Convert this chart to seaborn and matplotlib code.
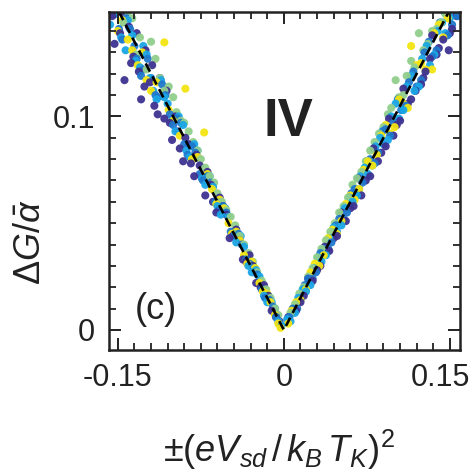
import matplotlib
matplotlib.use("Agg")
import matplotlib.pyplot as plt
import matplotlib.transforms as mtransforms
import seaborn as sns
import pandas as pd
from matplotlib.ticker import MultipleLocator, FixedLocator, FixedFormatter

# ---------------- data ----------------
purple_x = [-0.155, -0.148, -0.144, -0.140, -0.136, -0.131, -0.129, -0.125, -0.121, -0.117,
            -0.112, -0.108, -0.103, -0.098, -0.094, -0.089, -0.084, -0.079, -0.074, -0.069,
            -0.064, -0.058, -0.052, -0.046, -0.040, -0.034, -0.028, -0.021, -0.014, -0.007,
            0.008, 0.015, 0.022, 0.030, 0.037, 0.045, 0.052, 0.060, 0.067, 0.074,
            0.081, 0.088, 0.095, 0.102, 0.108, 0.115, 0.124, 0.128, 0.134, 0.140, 0.149, 0.152,
            -0.153, -0.146, -0.138, -0.133, -0.126, -0.119, -0.114, -0.106, -0.101, -0.096,
            -0.091, -0.086, -0.081, -0.076, -0.071, -0.066, -0.061, -0.055, -0.049, -0.043,
            -0.037, -0.031, -0.025, -0.018, -0.011, -0.004,
            0.004, 0.011, 0.018, 0.026, 0.033, 0.041, 0.048, 0.056, 0.063, 0.070,
            0.078, 0.085, 0.092, 0.099, 0.105, 0.112, 0.119, 0.126, 0.132, 0.138, 0.144, 0.150, 0.156]
purple_y = [0.147, 0.139, 0.117, 0.142, 0.128, 0.121, 0.108, 0.131, 0.116, 0.105,
            0.118, 0.099, 0.097, 0.100, 0.085, 0.090, 0.078, 0.082, 0.071, 0.074,
            0.060, 0.062, 0.054, 0.044, 0.042, 0.032, 0.030, 0.020, 0.016, 0.006,
            0.009, 0.013, 0.024, 0.028, 0.039, 0.043, 0.055, 0.057, 0.071, 0.070,
            0.085, 0.083, 0.099, 0.096, 0.113, 0.108, 0.115, 0.121, 0.138, 0.132, 0.131, 0.141,
            0.134, 0.149, 0.125, 0.139, 0.114, 0.124, 0.101, 0.112, 0.089, 0.093,
            0.079, 0.087, 0.072, 0.077, 0.063, 0.068, 0.055, 0.058, 0.043, 0.047,
            0.033, 0.035, 0.022, 0.021, 0.009, 0.004,
            0.006, 0.009, 0.016, 0.023, 0.030, 0.037, 0.044, 0.051, 0.058, 0.063,
            0.072, 0.079, 0.086, 0.091, 0.098, 0.106, 0.112, 0.118, 0.127, 0.129, 0.136, 0.139, 0.147]

blue_x = [-0.152, -0.146, -0.139, -0.133, -0.127, -0.120, -0.114, -0.107, -0.100, -0.093,
          -0.087, -0.080, -0.073, -0.066, -0.059, -0.052, -0.045, -0.038, -0.031, -0.024,
          -0.017, -0.010, -0.004,
          0.005, 0.012, 0.019, 0.026, 0.033, 0.040, 0.047, 0.054, 0.061, 0.068,
          0.075, 0.082, 0.089, 0.096, 0.103, 0.110, 0.117, 0.124, 0.131, 0.138,
          0.145, 0.152, 0.157,
          -0.149, -0.142, -0.135, -0.129, -0.123, -0.116, -0.110, -0.103, -0.096, -0.090,
          -0.083, -0.076, -0.069, -0.062, -0.055, -0.048, -0.041, -0.034, -0.027, -0.020,
          -0.013, -0.007,
          0.008, 0.015, 0.022, 0.029, 0.036, 0.043, 0.050, 0.057, 0.064, 0.071,
          0.078, 0.085, 0.092, 0.099, 0.106, 0.113, 0.120, 0.127, 0.134, 0.141, 0.148, 0.155]
blue_y = [0.148, 0.136, 0.141, 0.127, 0.122, 0.118, 0.109, 0.110, 0.096, 0.097,
          0.082, 0.083, 0.070, 0.069, 0.056, 0.055, 0.044, 0.040, 0.031, 0.026,
          0.015, 0.011, 0.003,
          0.006, 0.010, 0.021, 0.024, 0.036, 0.038, 0.049, 0.052, 0.064, 0.066,
          0.079, 0.078, 0.093, 0.091, 0.108, 0.105, 0.121, 0.117, 0.135, 0.131,
          0.149, 0.143, 0.147,
          0.141, 0.146, 0.133, 0.119, 0.127, 0.110, 0.115, 0.101, 0.099, 0.087,
          0.086, 0.073, 0.072, 0.060, 0.058, 0.046, 0.045, 0.033, 0.029, 0.019,
          0.014, 0.006,
          0.010, 0.014, 0.024, 0.027, 0.038, 0.041, 0.052, 0.055, 0.066, 0.069,
          0.080, 0.083, 0.094, 0.097, 0.103, 0.116, 0.114, 0.130, 0.128, 0.144, 0.138, 0.149]

cyan_x = [-0.157, -0.150, -0.143, -0.137, -0.130, -0.124, -0.118, -0.111, -0.105, -0.098,
          -0.091, -0.085, -0.078, -0.071, -0.064, -0.057, -0.050, -0.043, -0.036, -0.029,
          -0.022, -0.015, -0.008, -0.002,
          0.003, 0.010, 0.017, 0.024, 0.031, 0.038, 0.045, 0.052, 0.059, 0.066,
          0.073, 0.080, 0.087, 0.094, 0.101, 0.108, 0.115, 0.122, 0.129, 0.136,
          0.143, 0.150, 0.156,
          -0.154, -0.147, -0.141, -0.134, -0.127, -0.121, -0.115, -0.108, -0.101, -0.095,
          -0.088, -0.081, -0.074, -0.067, -0.060, -0.053, -0.046, -0.039, -0.032, -0.025,
          -0.018, -0.011, -0.005,
          0.006, 0.013, 0.020, 0.027, 0.034, 0.041, 0.048, 0.055, 0.062, 0.069,
          0.076, 0.083, 0.090, 0.097, 0.104, 0.111, 0.118, 0.125, 0.132, 0.139, 0.146, 0.153]
cyan_y = [0.143, 0.149, 0.131, 0.138, 0.123, 0.129, 0.112, 0.117, 0.106, 0.093,
          0.096, 0.081, 0.084, 0.068, 0.067, 0.054, 0.053, 0.041, 0.039, 0.027,
          0.025, 0.013, 0.010, 0.002,
          0.005, 0.008, 0.019, 0.021, 0.034, 0.035, 0.048, 0.049, 0.062, 0.063,
          0.076, 0.077, 0.090, 0.089, 0.106, 0.103, 0.119, 0.114, 0.133, 0.129,
          0.144, 0.146, 0.150,
          0.148, 0.137, 0.145, 0.126, 0.133, 0.118, 0.108, 0.109, 0.098, 0.100,
          0.084, 0.087, 0.071, 0.072, 0.058, 0.057, 0.045, 0.044, 0.030, 0.028,
          0.016, 0.013, 0.004,
          0.004, 0.015, 0.018, 0.029, 0.032, 0.043, 0.046, 0.057, 0.060, 0.072,
          0.073, 0.086, 0.087, 0.100, 0.099, 0.114, 0.112, 0.127, 0.124, 0.140, 0.139, 0.148]

green_x = [-0.152, -0.137, -0.130, -0.120, -0.124, -0.112, -0.104, -0.097, -0.090, -0.082,
           -0.075, -0.067, -0.060, -0.052, -0.044, -0.036, -0.028, -0.020, -0.012, -0.005,
           0.006, 0.014, 0.022, 0.030, 0.038, 0.046, 0.054, 0.062, 0.070, 0.078,
           0.086, 0.094, 0.101, 0.108, 0.115, 0.122, 0.130, 0.138, 0.146, 0.154,
           -0.145, -0.141, -0.133, -0.116, -0.108, -0.100, -0.093, -0.086, -0.078, -0.071,
           -0.063, -0.056, -0.048, -0.040, -0.032, -0.024, -0.016, -0.008,
           0.010, 0.018, 0.026, 0.034, 0.042, 0.050, 0.058, 0.066, 0.074, 0.082,
           0.090, 0.097, 0.104, 0.111, 0.118, 0.126, 0.134, 0.142, 0.150]
green_y = [0.149, 0.146, 0.137, 0.135, 0.122, 0.118, 0.114, 0.102, 0.097, 0.088,
           0.080, 0.072, 0.064, 0.056, 0.049, 0.040, 0.032, 0.023, 0.015, 0.007,
           0.008, 0.017, 0.025, 0.034, 0.042, 0.050, 0.058, 0.068, 0.074, 0.084,
           0.092, 0.101, 0.117, 0.110, 0.126, 0.139, 0.134, 0.141, 0.148, 0.150,
           0.144, 0.149, 0.129, 0.127, 0.112, 0.109, 0.098, 0.093, 0.084, 0.076,
           0.069, 0.060, 0.053, 0.044, 0.036, 0.027, 0.019, 0.010,
           0.012, 0.020, 0.029, 0.038, 0.046, 0.055, 0.062, 0.071, 0.079, 0.088,
           0.095, 0.104, 0.109, 0.119, 0.123, 0.131, 0.140, 0.144, 0.149]

yellow_x = [-0.150, -0.141, -0.132, -0.108, -0.120, -0.089, -0.100, -0.072, -0.083, -0.065,
            -0.058, -0.050, -0.043, -0.036, -0.029, -0.022, -0.015, -0.008, -0.003,
            0.004, 0.011, 0.020, 0.028, 0.036, 0.044, 0.052, 0.060, 0.068, 0.076,
            0.084, 0.092, 0.100, 0.108, 0.115, 0.124, 0.134, 0.140, 0.148,
            -0.146, -0.137, -0.128, -0.124, -0.115, -0.104, -0.094, -0.078, -0.069, -0.061,
            -0.054, -0.047, -0.040, -0.033, -0.026, -0.019, -0.012, -0.005,
            0.007, 0.015, 0.024, 0.032, 0.040, 0.048, 0.056, 0.064, 0.072, 0.080,
            0.088, 0.096, 0.104, 0.112, 0.120, 0.128, 0.136, 0.144, 0.152]
yellow_y = [0.140, 0.136, 0.124, 0.1347, 0.112, 0.113, 0.098, 0.0925, 0.080, 0.066,
            0.061, 0.050, 0.046, 0.035, 0.032, 0.022, 0.017, 0.007, 0.001,
            0.003, 0.013, 0.019, 0.031, 0.035, 0.047, 0.051, 0.063, 0.066, 0.079,
            0.082, 0.096, 0.095, 0.106, 0.133, 0.125, 0.122, 0.143, 0.146,
            0.145, 0.131, 0.130, 0.117, 0.116, 0.103, 0.091, 0.081, 0.073, 0.059,
            0.057, 0.045, 0.042, 0.031, 0.029, 0.018, 0.013, 0.003,
            0.009, 0.014, 0.027, 0.030, 0.043, 0.045, 0.059, 0.061, 0.075, 0.077,
            0.091, 0.092, 0.108, 0.104, 0.124, 0.122, 0.139, 0.137, 0.149]

fit_x = [-0.16, 0.0, 0.16]
fit_y = [0.16, 0.0, 0.16]

series_names = ["s1", "s2", "s3", "s4", "s5"]
series_colors = ["#3d3190", "#1f78cc", "#1aa6e6", "#92cf8c", "#f4e512"]

x_ticks = [-0.15, 0.0, 0.15]
x_ticklabels = ["-0.15", "0", "0.15"]
y_ticks = [0.0, 0.1]
y_ticklabels = ["0", "0.1"]

# ---------------- build table ----------------
frames = []
for name, xs, ys in zip(series_names,
                        [purple_x, blue_x, cyan_x, green_x, yellow_x],
                        [purple_y, blue_y, cyan_y, green_y, yellow_y]):
    frames.append(pd.DataFrame({"x": xs, "y": ys, "series": name}))
df = pd.concat(frames, ignore_index=True)
df = df.sort_values("y", kind="stable", ascending=False).reset_index(drop=True)

# ---------------- style ----------------
sns.set_style("ticks")
plt.rcParams["font.family"] = ["Liberation Sans", "DejaVu Sans"]
plt.rcParams["mathtext.fontset"] = "custom"
plt.rcParams["mathtext.rm"] = "Liberation Sans"
plt.rcParams["mathtext.it"] = "Liberation Sans:italic"
plt.rcParams["mathtext.bf"] = "Liberation Sans:bold"
plt.rcParams["axes.unicode_minus"] = False
plt.rcParams["axes.axisbelow"] = False
for a in ("xtick", "ytick"):
    plt.rcParams[f"{a}.direction"] = "in"
    plt.rcParams[f"{a}.major.size"] = 8.5
    plt.rcParams[f"{a}.minor.size"] = 5
    plt.rcParams[f"{a}.major.width"] = 1.4
    plt.rcParams[f"{a}.minor.width"] = 1.3
    plt.rcParams[f"{a}.color"] = "#222222"
plt.rcParams["xtick.top"] = True
plt.rcParams["ytick.right"] = True

fig = plt.figure(figsize=(4.77, 4.73), dpi=100)
ax = fig.add_axes([0.2285, 0.26, 0.7355, 0.715])

sns.scatterplot(data=df, x="x", y="y", hue="series",
                palette=dict(zip(series_names, series_colors)),
                s=34, linewidth=0, alpha=0.95, legend=False, ax=ax, zorder=2)
ax.plot(fit_x, fit_y, color="black", lw=1.9, dashes=(3.5, 2.0), zorder=3)

ax.set_xlim(-0.158, 0.159)
ax.set_ylim(-0.0094, 0.149)
ax.xaxis.set_major_locator(FixedLocator(x_ticks))
ax.xaxis.set_major_formatter(FixedFormatter(x_ticklabels))
ax.yaxis.set_major_locator(FixedLocator(y_ticks))
ax.yaxis.set_major_formatter(FixedFormatter(y_ticklabels))
ax.xaxis.set_minor_locator(MultipleLocator(0.015))
ax.yaxis.set_minor_locator(MultipleLocator(0.01))

for sp in ax.spines.values():
    sp.set_linewidth(1.8)
    sp.set_color("#222222")
    sp.set_zorder(4)

ax.set_xlabel(r"$\pm(eV_{sd}\,/\,k_B\,T_K)^2$", fontsize=26, color="#222222")
ax.set_ylabel(r"$\Delta G/\bar{\alpha}$", fontsize=26, color="#222222")
ax.xaxis.set_label_coords(0.485, -0.23)
ax.yaxis.set_label_coords(-0.175, 0.32)

ax.text(0.0045, 0.0975, "IV", fontsize=38, fontweight="bold",
        ha="center", va="center", color="#222222")
ax.text(-0.116, 0.0095, "(c)", fontsize=26, ha="center", va="center",
        color="#222222")

# tick styling applied last
ax.tick_params(which="both", direction="in", top=True, right=True,
               bottom=True, left=True, color="#222222")
ax.tick_params(which="major", length=8.5, width=1.4)
ax.tick_params(which="minor", length=5, width=1.3)
ax.tick_params(axis="x", which="major", labelsize=22, pad=9, labelcolor="#222222")
ax.tick_params(axis="y", which="major", labelsize=22, pad=10, labelcolor="#222222")

# the right-hand tick label sits a little left of its tick in the reference
lbl = ax.xaxis.get_major_ticks()[2].label1
lbl.set_transform(lbl.get_transform() +
                  mtransforms.ScaledTranslation(-0.09, 0, fig.dpi_scale_trans))

fig.savefig("out.png", dpi=100)
